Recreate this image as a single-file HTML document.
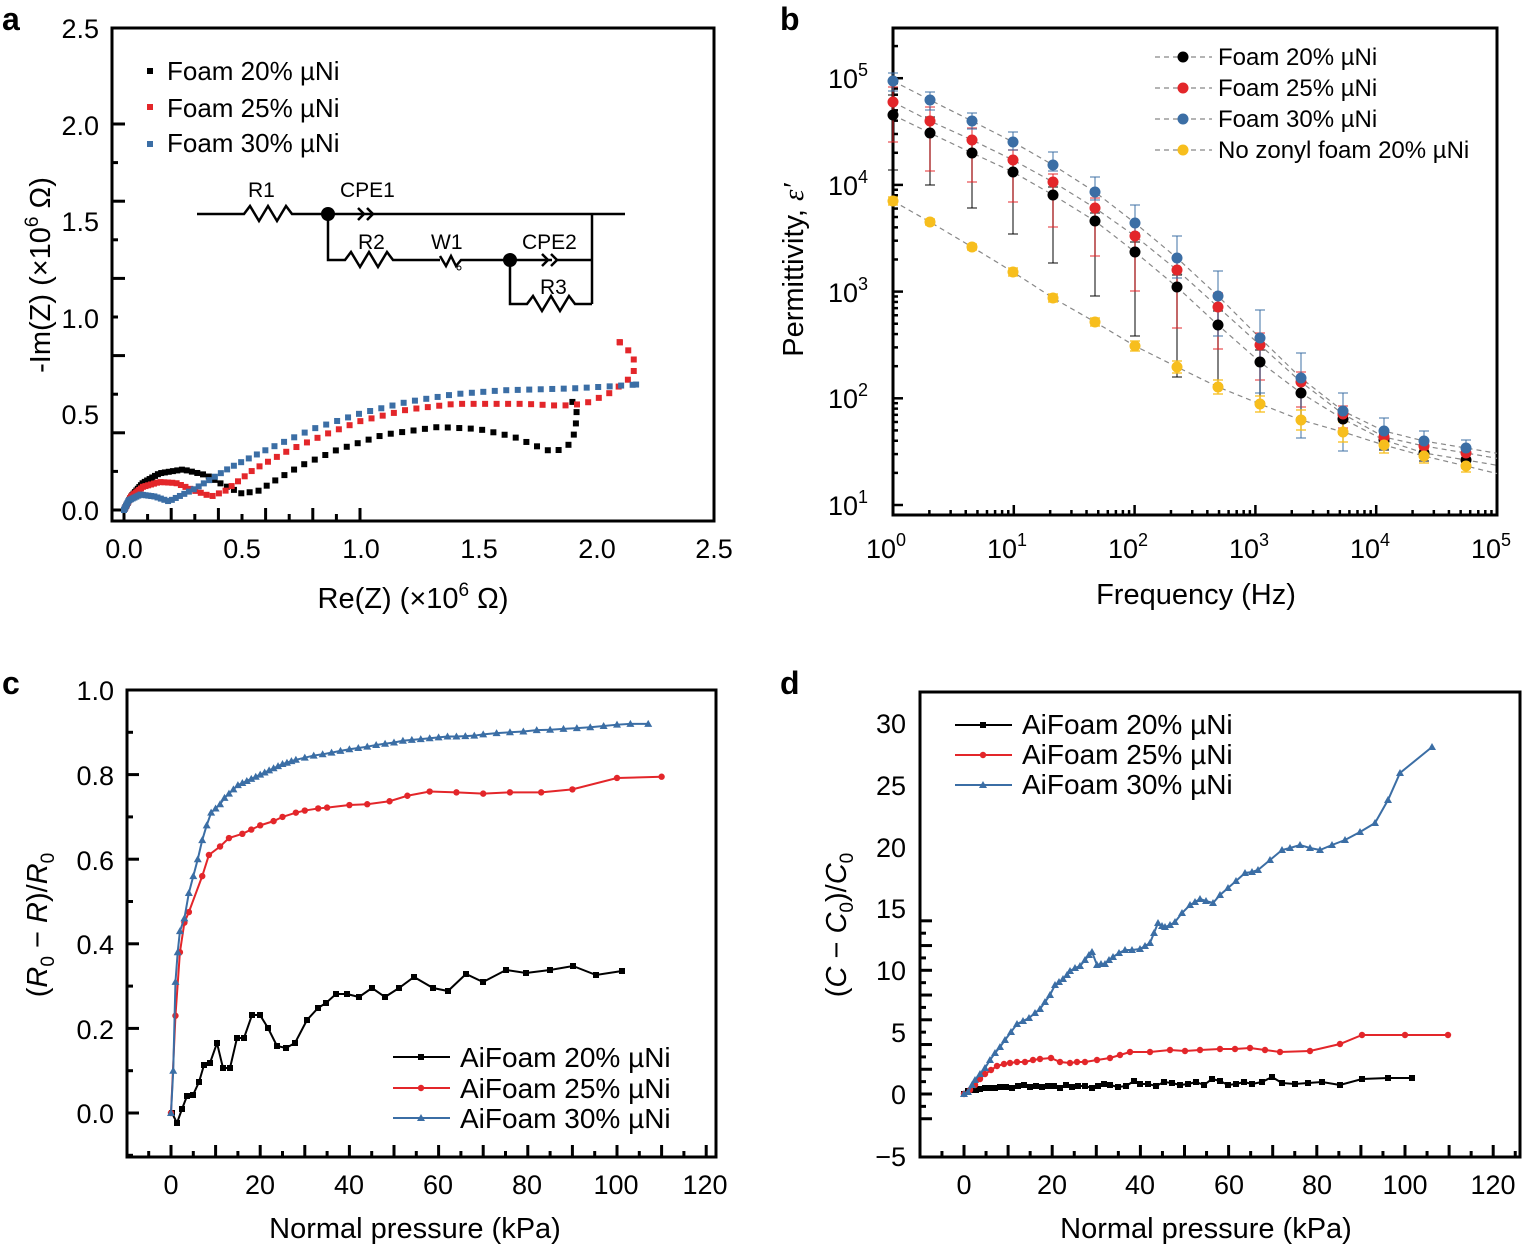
<!DOCTYPE html>
<html><head><meta charset="utf-8"><style>
body{margin:0;background:#fff}
svg{display:block;font-family:"Liberation Sans",Arial,sans-serif}
</style></head><body>
<svg id="s" width="1523" height="1247" viewBox="0 0 1523 1247" xmlns="http://www.w3.org/2000/svg">
<g font-weight="bold" font-size="32">
<text x="2" y="30">a</text><text x="780" y="30">b</text><text x="2" y="694">c</text><text x="780" y="694">d</text></g>

<!-- Panel a -->
<rect x="112" y="28" width="602" height="493" fill="none" stroke="#000" stroke-width="3"/>
<g font-size="27" text-anchor="middle">
<text x="124" y="558">0.0</text><text x="242" y="558">0.5</text><text x="361" y="558">1.0</text><text x="479" y="558">1.5</text><text x="597" y="558">2.0</text><text x="714" y="558">2.5</text>
</g>
<g font-size="27" text-anchor="end">
<text x="99" y="520">0.0</text><text x="99" y="424">0.5</text><text x="99" y="328">1.0</text><text x="99" y="231">1.5</text><text x="99" y="135">2.0</text><text x="99" y="38">2.5</text>
</g>
<text x="413" y="608" font-size="29" text-anchor="middle">Re(Z) (×10<tspan font-size="19" dy="-12">6</tspan><tspan dy="12"> Ω)</tspan></text>
<text transform="translate(50,275) rotate(-90)" font-size="29" text-anchor="middle">-Im(Z) (×10<tspan font-size="19" dy="-12">6</tspan><tspan dy="12"> Ω)</tspan></text>
<g id="aticks" stroke="#000" stroke-width="3"></g>
<g font-size="26">
<rect x="147" y="68" width="6" height="6"/><text x="167" y="80">Foam 20% µNi</text>
<rect x="147" y="104" width="6" height="6" fill="#e3262a"/><text x="167" y="117">Foam 25% µNi</text>
<rect x="147" y="141" width="6" height="6" fill="#3b6ea5"/><text x="167" y="152">Foam 30% µNi</text>
</g>
<!-- circuit -->
<g stroke="#000" stroke-width="2.5" fill="none">
<polyline points="197,214 244,214 250,206 259,221 268,206 277,221 286,206 292,214 328,214 372,214"/>
<polyline points="358,208 364,214 358,220"/><polyline points="367,208 373,214 367,220"/>
<line x1="373" y1="214" x2="625" y2="214"/>
<line x1="592" y1="214" x2="592" y2="304"/>
<polyline points="328,214 328,260 345,260 351,252 360,267 369,252 378,267 387,252 393,260 440,260"/>
<polyline points="440,256 446,266 451,256 456,266 461,260 552,260"/>
<polyline points="542,254 548,260 542,266"/><polyline points="551,254 557,260 551,266"/>
<line x1="557" y1="260" x2="592" y2="260"/>
<polyline points="510,260 510,304 527,304 533,296 542,311 551,296 560,311 569,296 575,304 592,304"/>
</g>
<circle cx="328" cy="214" r="7"/><circle cx="510" cy="260" r="7"/>
<circle cx="459" cy="268" r="2" fill="none" stroke="#000" stroke-width="1"/>
<g font-size="21"><text x="248" y="197">R1</text><text x="340" y="197">CPE1</text><text x="358" y="249">R2</text><text x="431" y="249">W1</text><text x="522" y="249">CPE2</text><text x="540" y="294">R3</text></g>
<g id="acurves"></g>

<!-- Panel b -->
<rect x="893" y="28" width="604" height="487" fill="none" stroke="#000" stroke-width="3"/>
<g id="bticks" stroke="#000" stroke-width="2.5"></g>
<g font-size="27" text-anchor="middle">
<text x="886" y="558">10<tspan font-size="18" dy="-12">0</tspan></text>
<text x="1007" y="558">10<tspan font-size="18" dy="-12">1</tspan></text>
<text x="1128" y="558">10<tspan font-size="18" dy="-12">2</tspan></text>
<text x="1249" y="558">10<tspan font-size="18" dy="-12">3</tspan></text>
<text x="1370" y="558">10<tspan font-size="18" dy="-12">4</tspan></text>
<text x="1491" y="558">10<tspan font-size="18" dy="-12">5</tspan></text>
</g>
<g font-size="27" text-anchor="end">
<text x="868" y="88">10<tspan font-size="18" dy="-12">5</tspan></text>
<text x="868" y="195">10<tspan font-size="18" dy="-12">4</tspan></text>
<text x="868" y="302">10<tspan font-size="18" dy="-12">3</tspan></text>
<text x="868" y="408">10<tspan font-size="18" dy="-12">2</tspan></text>
<text x="868" y="515">10<tspan font-size="18" dy="-12">1</tspan></text>
</g>
<text x="1196" y="604" font-size="29" text-anchor="middle">Frequency (Hz)</text>
<text transform="translate(803,270) rotate(-90)" font-size="29" text-anchor="middle">Permittivity, <tspan font-family="Liberation Serif" font-style="italic">ε′</tspan></text>
<g id="bdata"></g>
<g font-size="24" id="blegend">
<text x="1218" y="65">Foam 20% µNi</text><text x="1218" y="96">Foam 25% µNi</text><text x="1218" y="127">Foam 30% µNi</text><text x="1218" y="158">No zonyl foam 20% µNi</text>
</g>

<!-- Panel c -->
<rect x="127" y="690" width="589" height="467" fill="none" stroke="#000" stroke-width="3"/>
<g id="cticks" stroke="#000" stroke-width="3"></g>
<g font-size="27" text-anchor="middle">
<text x="171" y="1194">0</text><text x="260" y="1194">20</text><text x="349" y="1194">40</text><text x="438" y="1194">60</text><text x="527" y="1194">80</text><text x="616" y="1194">100</text><text x="705" y="1194">120</text>
</g>
<g font-size="27" text-anchor="end">
<text x="114" y="1123">0.0</text><text x="114" y="1039">0.2</text><text x="114" y="954">0.4</text><text x="114" y="870">0.6</text><text x="114" y="785">0.8</text><text x="114" y="700">1.0</text>
</g>
<text x="415" y="1238" font-size="29" text-anchor="middle">Normal pressure (kPa)</text>
<text transform="translate(47,925) rotate(-90)" font-size="29" text-anchor="middle">(<tspan font-style="italic">R</tspan><tspan font-size="19" dy="7">0</tspan><tspan dy="-7"> − </tspan><tspan font-style="italic">R</tspan>)/<tspan font-style="italic">R</tspan><tspan font-size="19" dy="7">0</tspan></text>
<g id="cdata"></g>
<g font-size="28"><text x="460" y="1067">AiFoam 20% µNi</text><text x="460" y="1098">AiFoam 25% µNi</text><text x="460" y="1128">AiFoam 30% µNi</text></g>

<!-- Panel d -->
<rect x="920" y="692" width="600" height="465" fill="none" stroke="#000" stroke-width="3"/>
<g id="dticks" stroke="#000" stroke-width="3"></g>
<g font-size="27" text-anchor="middle">
<text x="964" y="1194">0</text><text x="1052" y="1194">20</text><text x="1140" y="1194">40</text><text x="1229" y="1194">60</text><text x="1317" y="1194">80</text><text x="1405" y="1194">100</text><text x="1493" y="1194">120</text>
</g>
<g font-size="27" text-anchor="end">
<text x="906" y="1166">−5</text><text x="906" y="1104">0</text><text x="906" y="1042">5</text><text x="906" y="980">10</text><text x="906" y="918">15</text><text x="906" y="857">20</text><text x="906" y="795">25</text><text x="906" y="733">30</text>
</g>
<text x="1206" y="1238" font-size="29" text-anchor="middle">Normal pressure (kPa)</text>
<text transform="translate(846,925) rotate(-90)" font-size="29" text-anchor="middle">(<tspan font-style="italic">C</tspan> − <tspan font-style="italic">C</tspan><tspan font-size="19" dy="7">0</tspan><tspan dy="-7">)/</tspan><tspan font-style="italic">C</tspan><tspan font-size="19" dy="7">0</tspan></text>
<g id="ddata"></g>
<g font-size="28"><text x="1022" y="734">AiFoam 20% µNi</text><text x="1022" y="764">AiFoam 25% µNi</text><text x="1022" y="794">AiFoam 30% µNi</text></g>
</svg>
<script>
var NS="http://www.w3.org/2000/svg";
function el(p,t,a){var e=document.createElementNS(NS,t);for(var k in a)e.setAttribute(k,a[k]);document.getElementById(p).appendChild(e);return e;}
var BK="#000",RD="#e3262a",BL="#3b6ea5",YL="#f7be1d";
for(var i=0;i<=10;i++){var x=124+i*23.6;el("aticks","line",{x1:x,y1:521,x2:x,y2:i%2?514:508});}
for(var i=0;i<=10;i++){var y=510-i*38.6;el("aticks","line",{x1:112,y1:y,x2:i%2?118:125,y2:y});}
function ax(v){return 124+v*236;} function ay(v){return 510-v*193;}
function along(pts,col,fn){var P=pts.map(function(p){return[ax(p[0]),ay(p[1])]});
 var acc=0,next=0;for(var i=0;i<P.length-1;i++){var a=P[i],b=P[i+1],dx=b[0]-a[0],dy=b[1]-a[1],L=Math.hypot(dx,dy);
  while(acc+L>=next){var f=(next-acc)/L;var x=a[0]+dx*f,y=a[1]+dy*f;fn(x,y,col);var sp=Math.min(11.5,Math.max(1.5,1.5+(x-124)*0.06));next+=sp;}
  acc+=L;}
 var l=P[P.length-1];fn(l[0],l[1],col);}
function sq(x,y,c){el("acurves","rect",{x:x-3,y:y-3,width:6,height:6,fill:c});}
along([[0,0],[0.03,0.07],[0.08,0.14],[0.15,0.19],[0.25,0.21],[0.35,0.18],[0.42,0.13],[0.5,0.085],[0.57,0.1],[0.65,0.16],[0.75,0.23],[0.9,0.31],[1.1,0.39],[1.33,0.43],[1.5,0.42],[1.65,0.38],[1.77,0.32],[1.82,0.3],[1.88,0.33],[1.91,0.4],[1.92,0.5],[1.9,0.56]],BK,sq);
along([[0,0],[0.03,0.07],[0.08,0.12],[0.15,0.145],[0.22,0.14],[0.3,0.1],[0.37,0.07],[0.43,0.1],[0.55,0.21],[0.7,0.31],[0.85,0.39],[1.0,0.46],[1.2,0.52],[1.4,0.55],[1.7,0.55],[1.85,0.54],[1.95,0.55],[2.05,0.6],[2.12,0.66],[2.16,0.7],[2.16,0.8],[2.1,0.87]],RD,sq);
along([[0,0],[0.02,0.05],[0.07,0.08],[0.13,0.07],[0.19,0.045],[0.3,0.11],[0.45,0.22],[0.6,0.31],[0.8,0.42],[1.0,0.5],[1.2,0.56],[1.4,0.6],[1.6,0.62],[1.9,0.63],[2.05,0.64],[2.17,0.65]],BL,sq);
for(var d=0;d<5;d++){for(var m=1;m<10;m++){var x=893+120.8*(d+Math.log10(m));if(m==1&&d==0)continue;el("bticks","line",{x1:x,y1:515,x2:x,y2:m==1?505:510});}}
for(var d=1;d<6;d++){for(var m=1;m<10;m++){var y=505-106.7*(d-1+Math.log10(m));if(y<30)continue;el("bticks","line",{x1:893,y1:y,x2:m==1?903:898,y2:y});}}
var bx=[893,930,972,1013,1053,1095,1135,1177,1218,1260,1301,1343,1384,1424,1466];
var bs=[
 {c:BK,y:[115,133,153,172,195,221,252,287,325,362,393,419,440,453,460],up:[20,16,12,10,8,8,10,12,14,12,10,8,6,6,6],dn:[55,52,55,62,68,75,84,90,60,40,25,15,10,8,8]},
 {c:RD,y:[102,121,140,160,182,208,236,270,307,345,382,414,437,446,453],up:[15,14,12,10,8,10,12,14,14,12,10,8,6,6,6],dn:[40,50,42,42,45,48,55,58,42,35,25,14,10,8,8]},
 {c:BL,y:[81,100,121,142,165,192,223,258,296,338,378,411,431,441,448],up:[8,8,8,10,13,15,18,22,25,28,25,18,13,10,8],dn:[10,10,8,8,6,8,10,20,40,55,60,40,18,14,12]},
 {c:YL,y:[201,222,247,272,298,322,346,367,387,404,420,432,445,456,466],up:[4,3,3,4,4,4,5,6,7,8,10,10,8,7,6],dn:[4,3,3,4,4,4,5,6,7,8,10,10,8,7,6]}];
bs.forEach(function(s){var pts=bx.map(function(x,i){return x+","+s.y[i]}).join(" ");
 var n=s.y.length,ex=s.y[n-1]+(s.y[n-1]-s.y[n-2])*(1497-1466)/41;
 el("bdata","polyline",{points:pts+" 1497,"+ex,fill:"none",stroke:"#888","stroke-width":1.2,"stroke-dasharray":"5,4"});});
bs.forEach(function(s){bx.forEach(function(x,i){var y=s.y[i];var op=s.c==YL?1:0.75;
 el("bdata","line",{x1:x,y1:y-s.up[i],x2:x,y2:y+s.dn[i],stroke:s.c,"stroke-width":1.3,opacity:op});
 el("bdata","line",{x1:x-5,y1:y-s.up[i],x2:x+5,y2:y-s.up[i],stroke:s.c,"stroke-width":1.3,opacity:op});
 el("bdata","line",{x1:x-5,y1:y+s.dn[i],x2:x+5,y2:y+s.dn[i],stroke:s.c,"stroke-width":1.3,opacity:op});});});
bs.forEach(function(s){bx.forEach(function(x,i){el("bdata","circle",{cx:x,cy:s.y[i],r:5.5,fill:s.c});});});
[[57,BK],[88,RD],[119,BL],[150,YL]].forEach(function(l){el("bdata","line",{x1:1155,y1:l[0],x2:1212,y2:l[0],stroke:"#888","stroke-width":1.2,"stroke-dasharray":"5,4"});el("bdata","circle",{cx:1183,cy:l[0],r:5.5,fill:l[1]});});
for(var i=-1;i<=24;i++){var x=171+i*22.3;if(x<130||x>713)continue;el("cticks","line",{x1:x,y1:1157,x2:x,y2:i%2?1151:1145});}
for(var i=-1;i<=10;i++){var y=1113-i*42.3;if(y<692)continue;el("cticks","line",{x1:127,y1:y,x2:i%2?133:139,y2:y});}
function cx(p){return 171+4.46*p} function cy(v){return 1113-423*v}
function series(g,pts,col,mk){el(g,"polyline",{points:pts.map(function(p){return p[0]+","+p[1]}).join(" "),fill:"none",stroke:col,"stroke-width":2});
 pts.forEach(function(p){mk(g,p[0],p[1],col)});}
function msq(g,x,y,c){el(g,"rect",{x:x-3,y:y-3,width:6,height:6,fill:c});}
function mci(g,x,y,c){el(g,"circle",{cx:x,cy:y,r:3.2,fill:c});}
function mtr(g,x,y,c){el(g,"polygon",{points:(x)+","+(y-4)+" "+(x-4)+","+(y+3)+" "+(x+4)+","+(y+3),fill:c});}
var blue=[[0,0],[0.5,0.1],[1,0.31],[1.5,0.38],[2,0.43],[3,0.46],[4,0.52],[5,0.56],[6,0.6],[7,0.645],[8,0.68],[9,0.71],[10,0.72],[11,0.73],[12,0.745],[13,0.755],[14,0.765],[15,0.775],[16,0.78],[17,0.785],[18,0.79],[19,0.795],[20,0.8],[21,0.805],[22,0.81],[23,0.815],[24,0.82],[25,0.825],[26,0.828],[27,0.832],[28,0.835],[30,0.84],[32,0.845],[34,0.848],[36,0.852],[38,0.856],[40,0.86],[42,0.863],[44,0.866],[46,0.87],[48,0.873],[50,0.876],[52,0.88],[54,0.882],[56,0.884],[58,0.886],[60,0.888],[62,0.89],[64,0.89],[66,0.891],[68,0.892],[70,0.895],[73,0.898],[76,0.9],[79,0.902],[82,0.905],[85,0.906],[88,0.908],[91,0.91],[94,0.912],[97,0.915],[100,0.918],[103,0.92],[107,0.92]];
var red=[[0,0],[1,0.23],[2,0.38],[3,0.45],[4,0.475],[7,0.56],[8.5,0.61],[11,0.63],[13,0.65],[16,0.66],[18,0.67],[20,0.68],[23,0.69],[25,0.70],[28,0.71],[30,0.715],[33,0.72],[35,0.722],[40,0.728],[44,0.73],[49,0.737],[53,0.75],[58,0.76],[64,0.758],[70,0.755],[76,0.758],[83,0.758],[90,0.765],[100,0.792],[110,0.795]];
var black=[[172,1113],[177,1123],[182,1109],[187,1096],[193,1095],[199,1082],[204,1065],[210,1063],[217,1043],[223,1068],[230,1068],[237,1038],[244,1038],[252,1015],[260,1015],[268,1028],[277,1046],[286,1048],[295,1043],[307,1020],[318,1008],[326,1003],[336,994],[347,994],[359,997],[372,988],[385,997],[399,988],[414,977],[433,988],[448,991],[466,974],[483,982],[506,970],[526,973],[550,970],[573,966],[596,975],[622,971]];
series("cdata",black,BK,msq);
series("cdata",red.map(function(p){return[cx(p[0]),cy(p[1])]}),RD,mci);
series("cdata",blue.map(function(p){return[cx(p[0]),cy(p[1])]}),BL,mtr);
[[1057,BK,msq],[1088,RD,mci],[1118,BL,mtr]].forEach(function(l){el("cdata","line",{x1:393,y1:l[0],x2:450,y2:l[0],stroke:l[1],"stroke-width":2});l[2]("cdata",421,l[0],l[1]);});
for(var i=-1;i<=25;i++){var x=964+i*22.05;if(x<923||x>1517)continue;el("dticks","line",{x1:x,y1:1157,x2:x,y2:i%2?1151:1145});}
for(var i=-2;i<=14;i++){var y=1094-i*6.185*2;if(y<695||y>1156)continue;el("dticks","line",{x1:920,y1:y,x2:i%2?926:932,y2:y});}
var dblue=[[964,1094],[968,1092],[972,1085],[975,1080],[980,1074],[985,1068],[990,1060],[995,1053],[1000,1047],[1005,1040],[1011,1032],[1017,1024],[1023,1021],[1029,1018],[1035,1013],[1040,1009],[1045,1002],[1050,995],[1055,985],[1059,982],[1063,979],[1067,975],[1070,971],[1075,968],[1080,966],[1085,960],[1089,955],[1092,952],[1097,965],[1101,964],[1105,964],[1109,960],[1113,957],[1119,953],[1125,950],[1132,950],[1140,949],[1145,946],[1150,943],[1154,933],[1158,923],[1162,926],[1165,927],[1170,925],[1175,922],[1182,913],[1190,905],[1195,902],[1200,899],[1206,901],[1213,903],[1220,895],[1228,888],[1236,881],[1245,873],[1252,872],[1258,870],[1270,860],[1282,850],[1290,848],[1300,845],[1310,848],[1320,850],[1332,845],[1345,840],[1360,832],[1375,823],[1388,800],[1400,773],[1432,747]];
var dred=[[964,1094],[970,1090],[975,1085],[980,1079],[985,1074],[991,1070],[997,1066],[1004,1064],[1010,1063],[1017,1062],[1025,1062],[1033,1060],[1040,1059],[1051,1058],[1060,1062],[1070,1063],[1077,1062],[1085,1062],[1097,1060],[1110,1058],[1120,1055],[1130,1052],[1150,1052],[1170,1050],[1185,1051],[1200,1050],[1220,1049],[1235,1049],[1250,1048],[1265,1050],[1280,1052],[1310,1051],[1340,1044],[1362,1035],[1405,1035],[1448,1035]];
var dbk=[];
var xs=[964,968,972,976,980,985,990,995,1000,1006,1012,1018,1024,1030,1036,1042,1048,1054,1060,1066,1072,1078,1085,1092,1098,1104,1110,1118,1126,1134,1140,1148,1156,1164,1172,1180,1188,1196,1204,1212,1220,1228,1236,1244,1252,1262,1272,1282,1295,1308,1322,1340,1362,1388,1412];
var vs=[0,3,4,4,5,6,6,6,7,7,6,8,9,7,8,7,8,8,6,9,7,8,8,6,8,10,9,7,8,13,10,10,8,12,11,9,10,12,9,15,13,9,10,12,10,12,17,11,10,11,12,9,15,16,16];
xs.forEach(function(x,i){dbk.push([x,1094-vs[i]]);});
series("ddata",dbk,BK,msq);
series("ddata",dred,RD,mci);
series("ddata",dblue,BL,mtr);
[[725,BK,msq],[755,RD,mci],[785,BL,mtr]].forEach(function(l){el("ddata","line",{x1:955,y1:l[0],x2:1012,y2:l[0],stroke:l[1],"stroke-width":2});l[2]("ddata",983,l[0],l[1]);});
</script>
</body></html>
